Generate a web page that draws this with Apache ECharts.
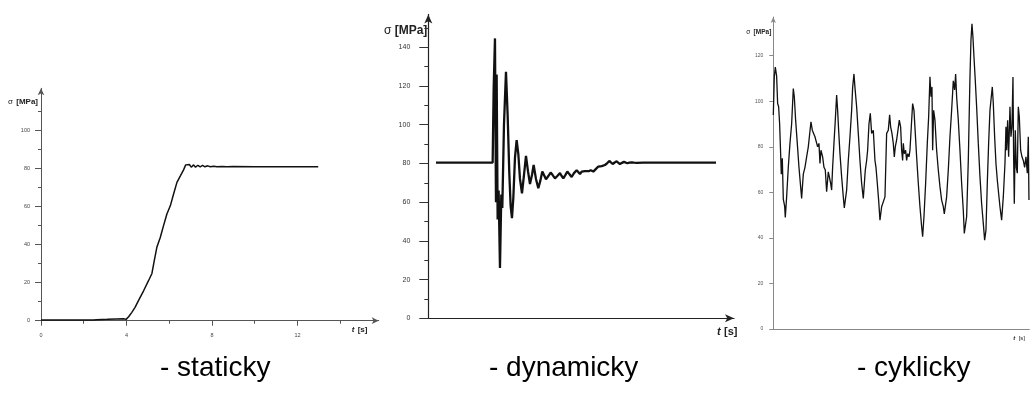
<!DOCTYPE html>
<html>
<head>
<meta charset="utf-8">
<script src="https://cdn.jsdelivr.net/npm/echarts@6/dist/echarts.min.js"></script>
<style>
html,body{margin:0;padding:0;background:#fff;}
#chart{width:1030px;height:404px;}
</style>
</head>
<body>
<div id="chart"></div>
<script>
// ---------- data: static loading ----------
const staticT = [0, 1, 2, 2.45, 2.6, 3.1, 3.55, 3.86, 3.98, 4.1, 4.25, 4.4, 4.56, 4.8, 5.03, 5.19, 5.3, 5.42, 5.58, 5.73, 5.89, 6.05, 6.2, 6.36, 6.52, 6.67, 6.77, 6.86, 6.94, 7.03, 7.14, 7.23, 7.34, 7.45, 7.56, 7.67, 7.8, 7.92, 8.08, 8.23, 8.47, 8.7, 9.0, 10, 11, 12, 12.97];
const staticSigma = [0.35, 0.4, 0.4, 0.4, 0.5, 0.7, 0.9, 1.0, 0.7, 2.1, 4.4, 7, 10.5, 15.7, 21, 24.8, 31.5, 38.5, 43.7, 49.8, 56, 60.3, 66.4, 72.6, 76, 79.2, 81.8, 80.8, 82, 80.6, 81.8, 80.6, 81.6, 80.8, 81.5, 80.8, 81.3, 80.8, 81.1, 80.8, 81, 80.8, 80.9, 80.8, 80.8, 80.8, 80.8];

// ---------- data: dynamic loading (time in arbitrary units) ----------
const dynT = [23, 100, 193, 195, 196, 200, 203, 205, 208, 211, 215, 219, 222, 227, 233, 238, 243, 247, 251, 255, 260, 265, 270, 275, 281, 287, 293, 299, 305, 311, 316, 323, 330, 336, 342, 347, 353, 360, 367, 373, 380, 387, 395, 400, 405, 411, 417, 423, 430, 437, 445, 450, 455, 460, 465, 470, 475, 481, 487, 495, 503, 510, 520, 530, 537, 543, 548, 553, 559, 565, 570, 575, 581, 587, 592, 597, 603, 610, 617, 625, 645, 695, 795, 863];
const dynSigma = [80.4, 80.4, 80.4, 80.5, 118, 144.6, 60, 126, 51, 66, 26, 64, 57, 100, 127.4, 105, 75, 58, 51.7, 62, 83, 92, 85, 72, 64.6, 74, 83.9, 76, 69.4, 74, 79.2, 72, 67.2, 71, 75.8, 74, 71.8, 73.5, 75.3, 74, 72.3, 73.5, 75, 73.5, 72.3, 74, 75.8, 74.5, 73, 75, 76.5, 75.5, 74.5, 75.8, 76.8, 76, 75.1, 76, 76.5, 75.8, 77.2, 78.4, 78.6, 79.2, 80.2, 81.3, 80.4, 79.7, 80.5, 81.1, 80.3, 79.7, 80.3, 80.8, 80.4, 80.1, 80.4, 80.6, 80.4, 80.3, 80.4, 80.4, 80.4, 80.4];

// ---------- data: cyclic loading (time in arbitrary units) ----------
const cycT = [0, 3, 6, 10, 13, 16, 19, 22, 24, 27, 30, 34, 36, 40, 45, 50, 55, 60, 63, 67, 72, 77, 82, 85, 90, 95, 100, 105, 110, 113, 117, 120, 125, 130, 133, 137, 140, 143, 148, 152, 156, 160, 165, 168, 172, 175, 178, 182, 186, 190, 193, 196, 200, 205, 210, 213, 220, 225, 230, 235, 238, 242, 245, 250, 255, 260, 265, 270, 273, 276, 280, 283, 287, 291, 295, 300, 305, 308, 312, 316, 320, 325, 330, 335, 340, 345, 349, 352, 356, 360, 363, 366, 370, 374, 378, 382, 385, 388, 390, 393, 397, 400, 403, 407, 410, 414, 418, 422, 426, 430, 435, 440, 445, 448, 452, 457, 462, 466, 470, 473, 476, 478, 481, 485, 490, 495, 500, 505, 510, 513, 520, 525, 530, 535, 540, 544, 547, 550, 555, 560, 565, 570, 573, 580, 585, 590, 593, 596, 599, 602, 606, 610, 615, 620, 625, 630, 634, 638, 642, 646, 650, 654, 657, 660, 664, 668, 672, 676, 680, 685, 690, 695, 698, 700, 703, 706, 710, 713, 716, 719, 721, 723, 726, 729, 732, 735, 738, 742, 746, 750, 754, 758, 762, 765, 767];
const cycSigma = [94, 110.7, 115, 111, 99, 97.6, 90, 77, 68, 75, 57, 54, 49, 58, 71, 81.5, 90, 105.6, 102, 91.7, 81.5, 71, 62.5, 57.3, 68, 71, 75.6, 80, 80.8, 91, 87.3, 88, 84.4, 85, 80, 81.5, 72.7, 78.5, 75.6, 71, 69.8, 60.3, 69, 66.9, 64, 61, 71, 81.5, 91.7, 102.7, 96, 87.3, 77, 66.9, 58, 53.2, 61, 74, 84.4, 96, 106, 112, 106, 97.6, 85.9, 74, 64, 57.3, 56.6, 69.8, 74, 78.5, 90, 94.7, 85.9, 87.3, 74, 71, 64, 56.6, 47.8, 53.7, 53.7, 58, 85.9, 87.3, 94, 88.8, 85.9, 81.5, 75.6, 80, 83, 87.3, 91.7, 88.8, 78.5, 74, 81.5, 77, 78.5, 74, 77, 75.6, 78.5, 88.8, 99, 96, 85.9, 75.6, 64, 53.7, 45, 40.5, 49.3, 64, 81.5, 93, 110.7, 102, 106.3, 78.5, 96, 91.7, 78.5, 69.8, 62.5, 56.6, 53.7, 50.5, 58, 69.8, 84.4, 96, 109, 105, 112, 102, 91.7, 78.5, 64, 52, 42, 49.3, 74, 110.7, 126.8, 134, 128, 119.5, 109, 97.6, 81.5, 66.9, 55, 46.4, 39, 43.4, 64, 81.5, 96, 102, 106.3, 99, 84.4, 72.7, 65.4, 59.5, 53.7, 47.8, 58, 72.7, 88.8, 78.5, 91.7, 75.6, 97.6, 84.4, 88.8, 110.7, 75.6, 55, 87.3, 71, 68.4, 97.6, 93.2, 78.5, 75.6, 74, 71, 75.6, 68.4, 84.4, 56.6];

// ---------- tick labels ----------
const staticXTicks = [0, 4, 8, 12];
const staticXMinor = [2, 6, 10, 14];
const staticYTicks = [0, 20, 40, 60, 80, 100];
const staticYMinor = [10, 30, 50, 70, 90, 110];
const dynYTicks = [0, 20, 40, 60, 80, 100, 120, 140];
const dynYMinor = [10, 30, 50, 70, 90, 110, 130, 150];
const cycYTicks = [0, 20, 40, 60, 80, 100, 120];
const captions = ['- staticky', '- dynamicky', '- cyklicky'];

const zip = (a, b) => a.map((v, i) => [v, b[i]]);
const FONT = 'Liberation Sans';

const chart = echarts.init(document.getElementById('chart'));

function nameStyle(size, align, pad, vAlign) {
  return {
    align: align, verticalAlign: vAlign, padding: pad, fontFamily: FONT, color: '#222',
    rich: {
      s: {fontSize: size, fontFamily: FONT, color: '#222'},
      i: {fontSize: size, fontFamily: FONT, fontStyle: 'italic', fontWeight: 'bold', color: '#222'},
      b: {fontSize: size, fontFamily: FONT, fontWeight: 'bold', color: '#222'}
    }
  };
}

const option = {
  animation: false,
  backgroundColor: '#fff',
  title: [
    {text: captions[0], left: 160, top: 354},
    {text: captions[1], left: 489, top: 354},
    {text: captions[2], left: 857, top: 354}
  ].map(t => Object.assign(t, {padding: 0, textStyle: {fontSize: 28, fontWeight: 'normal', fontFamily: FONT, color: '#000'}})),
  grid: [
    {left: 41, top: 88.3, width: 337.7, height: 232.4},
    {left: 428.3, top: 14.4, width: 305.7, height: 303.9},
    {left: 773.3, top: 17, width: 256, height: 312}
  ],
  xAxis: [
    {
      type: 'value', gridIndex: 0, min: 0, max: 15.8, position: 'bottom',
      axisLine: {onZero: false, symbol: ['none', 'arrow'], symbolSize: [5, 7], lineStyle: {color: '#555', width: 1}},
      axisTick: {customValues: staticXTicks, length: 5, lineStyle: {color: '#555'}},
      axisLabel: {customValues: staticXTicks, fontSize: 5.5, margin: 12, color: '#444', fontFamily: FONT},
      splitLine: {show: false},
      name: '{i|t} {b|[s]}', nameLocation: 'end', nameGap: -27,
      nameTextStyle: nameStyle(8, 'left', [3, 0, 0, 0], 'top')
    },
    {
      type: 'value', gridIndex: 0, min: 0, max: 15.8, position: 'bottom',
      axisLine: {show: false, onZero: false},
      axisTick: {customValues: staticXMinor, length: 3, lineStyle: {color: '#555'}},
      axisLabel: {show: false}, splitLine: {show: false}
    },
    {
      type: 'value', gridIndex: 1, min: 0, max: 917, position: 'bottom',
      axisLine: {onZero: false, symbol: ['none', 'arrow'], symbolSize: [6, 9], lineStyle: {color: '#222', width: 1.2}},
      axisTick: {show: false}, axisLabel: {show: false}, splitLine: {show: false},
      name: '{i|t} {b|[s]}', nameLocation: 'end', nameGap: -17,
      nameTextStyle: nameStyle(11, 'left', [8, 0, 0, 0], 'top')
    },
    {
      type: 'value', gridIndex: 2, min: 0, max: 768, position: 'bottom',
      axisLine: {onZero: false, lineStyle: {color: '#888', width: 1}},
      axisTick: {show: false}, axisLabel: {show: false}, splitLine: {show: false},
      name: '{i|t} {s|[s]}', nameLocation: 'end', nameGap: -16,
      nameTextStyle: nameStyle(6, 'left', [3, 0, 0, 0], 'top')
    }
  ],
  yAxis: [
    {
      type: 'value', gridIndex: 0, min: 0, max: 122, position: 'left',
      axisLine: {onZero: false, symbol: ['none', 'arrow'], symbolSize: [5, 7], lineStyle: {color: '#555', width: 1}},
      axisTick: {customValues: staticYTicks, length: 6, lineStyle: {color: '#555'}},
      axisLabel: {customValues: staticYTicks, fontSize: 5.5, margin: 11, color: '#444', fontFamily: FONT},
      splitLine: {show: false},
      name: '{s|σ} {b|[MPa]}', nameLocation: 'end', nameGap: -13,
      nameTextStyle: nameStyle(8, 'right', [0, 3, 0, 0], 'middle')
    },
    {
      type: 'value', gridIndex: 0, min: 0, max: 122, position: 'left',
      axisLine: {show: false, onZero: false},
      axisTick: {customValues: staticYMinor, length: 3, lineStyle: {color: '#555'}},
      axisLabel: {show: false}, splitLine: {show: false}
    },
    {
      type: 'value', gridIndex: 1, min: 0, max: 157, position: 'left',
      axisLine: {onZero: false, symbol: ['none', 'arrow'], symbolSize: [6, 9], lineStyle: {color: '#222', width: 1.2}},
      axisTick: {customValues: dynYTicks, length: 9, lineStyle: {color: '#333'}},
      axisLabel: {customValues: dynYTicks, fontSize: 7, margin: 18, color: '#333', fontFamily: FONT},
      splitLine: {show: false},
      name: '{s|σ} {b|[MPa]}', nameLocation: 'end', nameGap: -16.6,
      nameTextStyle: nameStyle(12, 'right', [0, 1, 0, 0], 'middle')
    },
    {
      type: 'value', gridIndex: 1, min: 0, max: 157, position: 'left',
      axisLine: {show: false, onZero: false},
      axisTick: {customValues: dynYMinor, length: 4, lineStyle: {color: '#333'}},
      axisLabel: {show: false}, splitLine: {show: false}
    },
    {
      type: 'value', gridIndex: 2, min: 0, max: 137, position: 'left',
      axisLine: {onZero: false, symbol: ['none', 'arrow'], symbolSize: [4, 6], lineStyle: {color: '#888', width: 1}},
      axisTick: {customValues: cycYTicks, length: 4, lineStyle: {color: '#888'}},
      axisLabel: {customValues: cycYTicks, fontSize: 5, margin: 10, color: '#555', fontFamily: FONT},
      splitLine: {show: false},
      name: '{s|σ} {b|[MPa]}', nameLocation: 'end', nameGap: -15,
      nameTextStyle: nameStyle(6.5, 'right', [0, 2, 0, 0], 'middle')
    }
  ],
  series: [
    {type: 'line', xAxisIndex: 0, yAxisIndex: 0, data: zip(staticT, staticSigma), showSymbol: false, lineStyle: {color: '#111', width: 1.5}},
    {type: 'line', xAxisIndex: 2, yAxisIndex: 2, data: zip(dynT, dynSigma), showSymbol: false, lineStyle: {color: '#111', width: 2.3}},
    {type: 'line', xAxisIndex: 3, yAxisIndex: 4, data: zip(cycT, cycSigma), showSymbol: false, lineStyle: {color: '#111', width: 1.3}}
  ]
};
chart.setOption(option);
</script>
</body>
</html>
